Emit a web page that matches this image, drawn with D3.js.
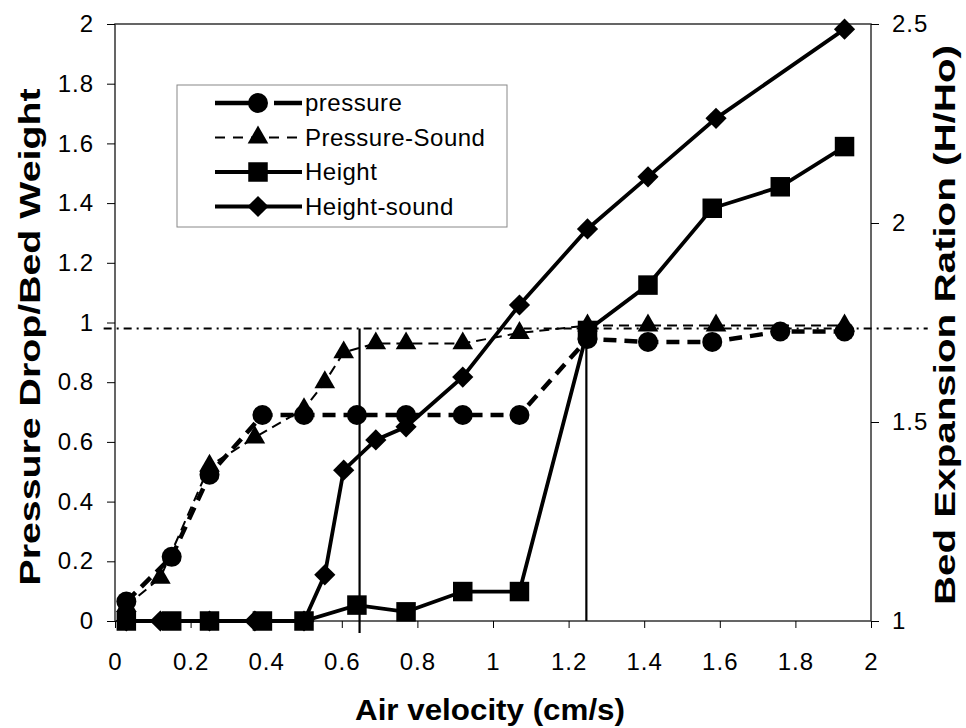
<!DOCTYPE html>
<html>
<head>
<meta charset="utf-8">
<script src="https://cdn.jsdelivr.net/npm/d3@7"></script>
<style>
  body { margin: 0; background: #fff; }
  text { font-family: "Liberation Sans", Arial, sans-serif; fill: #000; }
</style>
</head>
<body>
<div id="chart"></div>
<script>
// Data
const velocity = [0.03, 0.15, 0.25, 0.39, 0.50, 0.64, 0.77, 0.92, 1.07, 1.25, 1.41, 1.58, 1.76, 1.93];
const pressure = [0.065, 0.215, 0.49, 0.69, 0.69, 0.69, 0.69, 0.69, 0.69, 0.945, 0.935, 0.935, 0.97, 0.97];
const height = [1.0, 1.0, 1.0, 1.0, 1.0, 1.04, 1.023, 1.074, 1.074, 1.73, 1.844, 2.037, 2.091, 2.192];

const velocitySound = [0.03, 0.12, 0.25, 0.37, 0.50, 0.555, 0.605, 0.69, 0.77, 0.92, 1.07, 1.25, 1.41, 1.59, 1.93];
const pressureSound = [0.05, 0.145, 0.52, 0.615, 0.71, 0.80, 0.90, 0.93, 0.93, 0.93, 0.965, 0.99, 0.99, 0.99, 0.99];
const heightSound = [1.0, 1.0, 1.0, 1.0, 1.0, 1.116, 1.379, 1.455, 1.488, 1.613, 1.794, 1.985, 2.116, 2.263, 2.487];

const seriesNames = ["pressure", "Pressure-Sound", "Height", "Height-sound"];

const xTicks = [0, 0.2, 0.4, 0.6, 0.8, 1, 1.2, 1.4, 1.6, 1.8, 2];
const yLeftTicks = [0, 0.2, 0.4, 0.6, 0.8, 1, 1.2, 1.4, 1.6, 1.8, 2];
const yRightTicks = [1, 1.5, 2, 2.5];

// reference lines: horizontal level and the two vertical markers
const refLevel = 0.98;
const refVelocity = [0.647, 1.247];

const margin = { top: 24, right: 95, bottom: 107, left: 115 };
const width = 966 - margin.left - margin.right;
const height0 = 728 - margin.top - margin.bottom;

const svg = d3.select("#chart")
    .append("svg")
    .attr("width", 966)
    .attr("height", 728)
    .append("g")
    .attr("transform", `translate(${margin.left},${margin.top})`);

const x = d3.scaleLinear().domain([0, 2]).range([0, width]);
const y = d3.scaleLinear().domain([0, 2]).range([height0, 0]);
const y2 = d3.scaleLinear().domain([1, 2.5]).range([height0, 0]);

// plot frame
svg.append("rect")
    .attr("width", width)
    .attr("height", height0)
    .attr("fill", "white")
    .attr("stroke", "#333")
    .attr("stroke-width", 1.5);

// axes
const tickFont = g => g.selectAll("text")
    .attr("font-size", "24px")
    .attr("letter-spacing", "1px")
    .attr("fill", "#000");

svg.append("g")
    .attr("transform", `translate(0,${height0})`)
    .call(d3.axisBottom(x).tickValues(xTicks).tickSize(7).tickPadding(25).tickFormat(d3.format("~g")))
    .call(g => g.select(".domain").remove())
    .call(tickFont);

svg.append("g")
    .call(d3.axisLeft(y).tickValues(yLeftTicks).tickSize(8).tickPadding(13).tickFormat(d3.format("~g")))
    .call(g => g.select(".domain").remove())
    .call(tickFont);

svg.append("g")
    .attr("transform", `translate(${width},0)`)
    .call(d3.axisRight(y2).tickValues(yRightTicks).tickSize(8).tickPadding(13).tickFormat(d3.format("~g")))
    .call(g => g.select(".domain").remove())
    .call(tickFont);

// reference lines
svg.append("line")
    .attr("x1", x(-0.03))
    .attr("x2", x(2.15))
    .attr("y1", y(refLevel))
    .attr("y2", y(refLevel))
    .attr("stroke", "#000")
    .attr("stroke-width", 2)
    .attr("stroke-dasharray", "8,5,2,5");

refVelocity.forEach((v, i) => {
    svg.append("line")
        .attr("x1", x(v))
        .attr("x2", x(v))
        .attr("y1", y(refLevel))
        .attr("y2", i === 0 ? height0 + 12 : height0)
        .attr("stroke", "#000")
        .attr("stroke-width", 2.2);
});

// marker shapes
const circleSym = d3.symbol().type(d3.symbolCircle).size(Math.PI * 10 * 10);
const triangleSym = d3.symbol().type(d3.symbolTriangle).size(185);
const squareSym = d3.symbol().type(d3.symbolSquare).size(19.5 * 19.5);
const diamondSym = d3.symbol().type(d3.symbolSquare).size(15 * 15);

const series = [
    { name: seriesNames[0], xs: velocity, ys: pressure, scale: y, dash: "13,8", stroke: 4.5, sym: circleSym, rot: 0 },
    { name: seriesNames[1], xs: velocitySound, ys: pressureSound, scale: y, dash: "10,6", stroke: 2, sym: triangleSym, rot: 0 },
    { name: seriesNames[2], xs: velocity, ys: height, scale: y2, dash: null, stroke: 3.8, sym: squareSym, rot: 0 },
    { name: seriesNames[3], xs: velocitySound, ys: heightSound, scale: y2, dash: null, stroke: 3.8, sym: diamondSym, rot: 45 }
];

series.forEach(s => {
    const pts = s.xs.map((v, i) => [v, s.ys[i]]);
    const line = d3.line()
        .x(d => x(d[0]))
        .y(d => s.scale(d[1]));

    svg.append("path")
        .datum(pts)
        .attr("fill", "none")
        .attr("stroke", "#000")
        .attr("stroke-width", s.stroke)
        .attr("stroke-dasharray", s.dash)
        .attr("d", line);

    svg.selectAll(null)
        .data(pts)
        .enter()
        .append("path")
        .attr("d", s.sym)
        .attr("transform", d => `translate(${x(d[0])},${s.scale(d[1])}) rotate(${s.rot})`)
        .attr("fill", "#000");
});

// legend
const legend = svg.append("g")
    .attr("transform", `translate(${177 - margin.left},${85 - margin.top})`);

legend.append("rect")
    .attr("width", 330)
    .attr("height", 142)
    .attr("fill", "white")
    .attr("stroke", "#888")
    .attr("stroke-width", 1);

series.forEach((s, i) => {
    const row = legend.append("g")
        .attr("transform", `translate(0,${18 + i * 34.5})`);

    row.append("line")
        .attr("x1", 38)
        .attr("x2", 125)
        .attr("stroke", "#000")
        .attr("stroke-width", s.stroke)
        .attr("stroke-dasharray", s.dash ? (i === 0 ? "52,7" : "10,8") : null);

    row.append("path")
        .attr("d", s.sym)
        .attr("transform", `translate(81,0) rotate(${s.rot})`)
        .attr("fill", "#000");

    row.append("text")
        .attr("x", 128)
        .attr("dy", "0.35em")
        .attr("font-size", "24px")
        .attr("letter-spacing", "0.5px")
        .text(s.name);
});

// axis titles
svg.append("text")
    .attr("x", 490 - margin.left)
    .attr("y", 720 - margin.top)
    .attr("text-anchor", "middle")
    .attr("font-size", "30px")
    .attr("font-weight", "bold")
    .attr("textLength", 270)
    .attr("lengthAdjust", "spacingAndGlyphs")
    .text("Air velocity (cm/s)");

svg.append("text")
    .attr("transform", `translate(${40 - margin.left},${337 - margin.top}) rotate(-90)`)
    .attr("text-anchor", "middle")
    .attr("font-size", "30px")
    .attr("font-weight", "bold")
    .attr("textLength", 497)
    .attr("lengthAdjust", "spacingAndGlyphs")
    .text("Pressure Drop/Bed Weight");

svg.append("text")
    .attr("transform", `translate(${955 - margin.left},${325 - margin.top}) rotate(-90)`)
    .attr("text-anchor", "middle")
    .attr("font-size", "30px")
    .attr("font-weight", "bold")
    .attr("textLength", 560)
    .attr("lengthAdjust", "spacingAndGlyphs")
    .text("Bed Expansion Ration (H/Ho)");
</script>
</body>
</html>
